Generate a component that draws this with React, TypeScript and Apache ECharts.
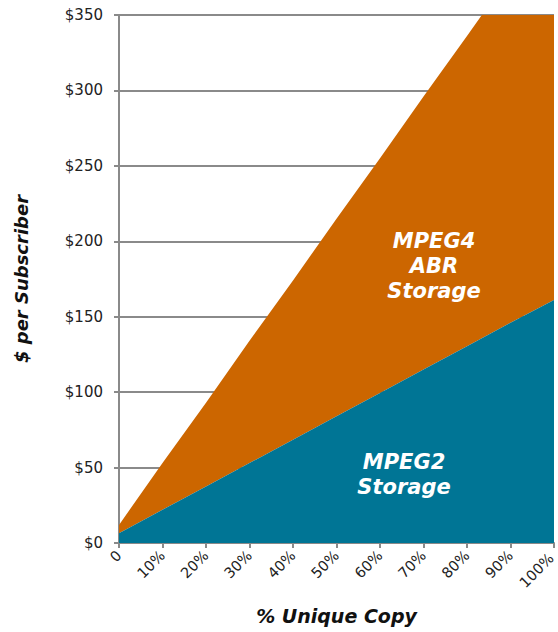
import React, { useEffect, useRef } from "react";
import * as echarts from "echarts";

// Share of unique copies (x axis categories)
const uniqueCopy = ["0", "10%", "20%", "30%", "40%", "50%", "60%", "70%", "80%", "90%", "100%"];

// Storage cost per subscriber, stacked: MPEG2 at the bottom, MPEG4 ABR on top
const mpeg2Storage = [6.5, 22, 37.5, 53, 68.5, 84, 99.5, 115, 130.5, 146, 161];
const mpeg4AbrStorage = [5.5, 31, 55.5, 81, 105.5, 131, 155.5, 181, 205.5, 231, 256];

const yTicks = { min: 0, max: 350, interval: 50 };

const FONT = "DejaVu Sans";
const GRAY = "#8a8a8a";

const areaLabelStyle = {
  textAlign: "center",
  lineHeight: 25,
  fontFamily: FONT,
  fontSize: 21,
  fontWeight: "bold",
  fontStyle: "italic",
  fill: "#ffffff",
};

const tickFont = { fontFamily: FONT, fontSize: 14.5, color: "#222" };

export default function App() {
  const ref = useRef<HTMLDivElement>(null);

  useEffect(() => {
    if (!ref.current) return;
    const chart = echarts.init(ref.current, null, { renderer: "svg" });
    const lastCategory = uniqueCopy[uniqueCopy.length - 1];
    chart.setOption({
      animation: false,
      backgroundColor: "#ffffff",
      grid: { left: 119, right: 4, top: 15, bottom: 89, outerBoundsMode: "none", containLabel: false },
      xAxis: {
        type: "category",
        data: uniqueCopy,
        boundaryGap: false,
        name: "% Unique Copy",
        nameLocation: "middle",
        nameGap: 63,
        nameTextStyle: {
          fontFamily: FONT,
          fontSize: 19,
          fontWeight: "bold",
          fontStyle: "italic",
          color: "#111",
        },
        axisLine: { show: true, lineStyle: { color: GRAY, width: 2 } },
        axisTick: { show: true, length: 5, alignWithLabel: true, lineStyle: { color: GRAY, width: 2 } },
        axisLabel: {
          rotate: 45,
          margin: 10,
          ...tickFont,
          interval: 0,
          // keep the right-most label inside the canvas edge
          formatter: (v: string) => (v === lastCategory ? `{edge|${v}}` : v),
          rich: { edge: { ...tickFont, padding: [0, 4, 0, 0] } },
        },
        splitLine: { show: false },
      },
      yAxis: {
        type: "value",
        min: yTicks.min,
        max: yTicks.max,
        interval: yTicks.interval,
        name: "$ per Subscriber",
        nameLocation: "middle",
        nameRotate: 90,
        nameGap: 89,
        nameTextStyle: {
          fontFamily: FONT,
          fontSize: 18,
          fontWeight: "bold",
          fontStyle: "italic",
          color: "#111",
        },
        axisLine: { show: true, lineStyle: { color: GRAY, width: 2 } },
        axisTick: { show: true, length: 5, lineStyle: { color: GRAY, width: 2 } },
        axisLabel: {
          margin: 16,
          fontFamily: FONT,
          fontSize: 15,
          color: "#222",
          formatter: (v: number) => "$" + v,
        },
        splitLine: { show: true, lineStyle: { color: GRAY, width: 2 } },
      },
      series: [
        {
          name: "MPEG2 Storage",
          type: "line",
          stack: "cost",
          data: mpeg2Storage,
          symbol: "none",
          lineStyle: { width: 0 },
          areaStyle: { color: "#007595", opacity: 1 },
          z: 3,
        },
        {
          name: "MPEG4 ABR Storage",
          type: "line",
          stack: "cost",
          data: mpeg4AbrStorage,
          symbol: "none",
          lineStyle: { width: 0 },
          areaStyle: { color: "#cc6600", opacity: 1 },
          z: 2,
        },
      ],
      graphic: [
        {
          type: "text",
          x: 434,
          y: 228,
          z: 100,
          style: { ...areaLabelStyle, text: "MPEG4\nABR\nStorage" },
        },
        {
          type: "text",
          x: 404,
          y: 449,
          z: 100,
          style: { ...areaLabelStyle, text: "MPEG2\nStorage" },
        },
      ],
    });
    return () => chart.dispose();
  }, []);

  return (
    <div
      ref={ref}
      style={{ position: "fixed", left: 0, top: 0, width: 558, height: 632 }}
    />
  );
}
